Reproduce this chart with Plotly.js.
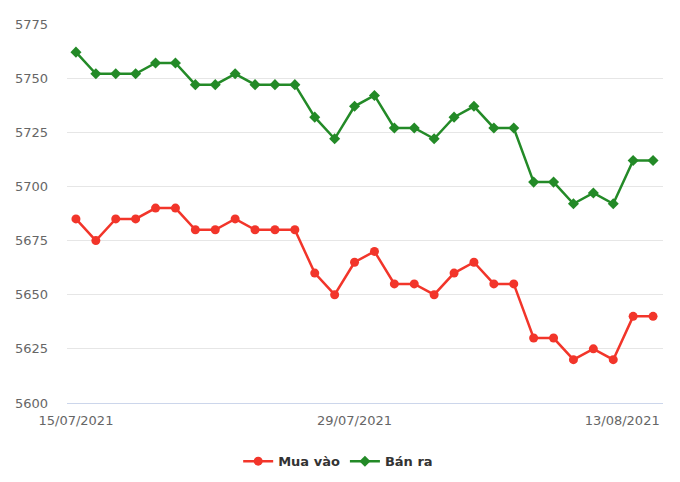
<!DOCTYPE html>
<html><head><meta charset="utf-8">
<script src="https://cdn.plot.ly/plotly-3.0.1.min.js"></script>
<style>html,body{margin:0;padding:0;background:#fff}#c{width:680px;height:482px}</style>
</head><body><div id="c"></div>
<script>
const dates = ["15/07/2021","16/07/2021","17/07/2021","18/07/2021","19/07/2021","20/07/2021","21/07/2021","22/07/2021","23/07/2021","24/07/2021","25/07/2021","26/07/2021","27/07/2021","28/07/2021","29/07/2021","30/07/2021","31/07/2021","01/08/2021","02/08/2021","03/08/2021","04/08/2021","05/08/2021","06/08/2021","07/08/2021","08/08/2021","09/08/2021","10/08/2021","11/08/2021","12/08/2021","13/08/2021"];
const muaVao = [5685,5675,5685,5685,5690,5690,5680,5680,5685,5680,5680,5680,5660,5650,5665,5670,5655,5655,5650,5660,5665,5655,5655,5630,5630,5620,5625,5620,5640,5640];
const banRa = [5762,5752,5752,5752,5757,5757,5747,5747,5752,5747,5747,5747,5732,5722,5737,5742,5727,5727,5722,5732,5737,5727,5727,5702,5702,5692,5697,5692,5712,5712];
const yTicks = [5600,5625,5650,5675,5700,5725,5750,5775];
const xLabelIdx = [0,14,29];

const idx = dates.map((d,i)=>i);
const font = "DejaVu Sans, Verdana, sans-serif";
const traces = [
  {x: idx, y: muaVao, name: "Mua vào", type: "scatter", mode: "lines+markers",
   line: {color: "#f2352a", width: 2.5}, marker: {symbol: "circle", size: 9, color: "#f2352a"}},
  {x: idx, y: banRa, name: "Bán ra", type: "scatter", mode: "lines+markers",
   line: {color: "#238a27", width: 2.5}, marker: {symbol: "diamond", size: 8.5, color: "#238a27"}}
];
const lastShift = 1.55;
const layout = {
  width: 680, height: 482,
  margin: {l: 67, r: 17, t: 24, b: 79, autoexpand: false},
  paper_bgcolor: "#fff", plot_bgcolor: "#fff",
  font: {family: font, size: 13, color: "#666"},
  showlegend: true,
  legend: {orientation: "h", x: 0.455, xanchor: "center", y: -0.114, yanchor: "top",
    font: {family: font, size: 13, color: "#333", weight: "bold"}, itemwidth: 30},
  xaxis: {range: [-0.45, 29.5], showgrid: false, zeroline: false, automargin: false,
    showline: true, linecolor: "#ccd6eb", linewidth: 1,
    tickmode: "array",
    tickvals: xLabelIdx.map((i,k)=> k===xLabelIdx.length-1 ? i-lastShift : i),
    ticktext: xLabelIdx.map(i=>dates[i]),
    ticks: "", ticklabelstandoff: 5, tickfont: {family: font, size: 13, color: "#666"}},
  yaxis: {range: [5600, 5775], tickmode: "array", tickvals: yTicks, automargin: false,
    showgrid: true, gridcolor: "#e6e6e6", gridwidth: 1, zeroline: false,
    ticks: "", ticklabelstandoff: 18, tickfont: {family: font, size: 13, color: "#666"}}
};
Plotly.newPlot("c", traces, layout, {displayModeBar: false, staticPlot: true});
</script></body></html>
